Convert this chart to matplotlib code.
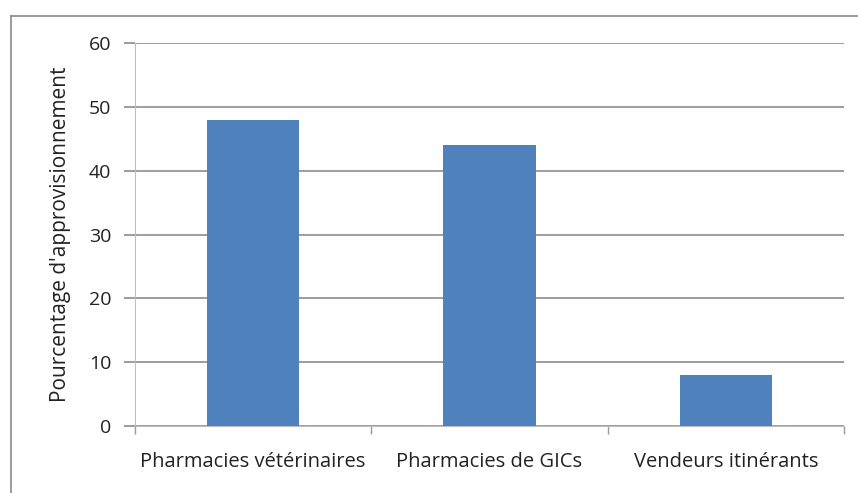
import matplotlib
matplotlib.use("Agg")
import matplotlib.pyplot as plt
from matplotlib.lines import Line2D

# Données
categories = ["Pharmacies vétérinaires", "Pharmacies de GICs", "Vendeurs itinérants"]
valeurs = [48, 44, 8]
graduations = [0, 10, 20, 30, 40, 50, 60]

plt.rcParams['font.family'] = ['Open Sans', 'DejaVu Sans']

fig = plt.figure(figsize=(8.58, 4.93), dpi=100)
ax = fig.add_axes([135 / 858, 67 / 493, 709 / 858, 383 / 493])

# Cadre gris autour du graphique (haut et gauche visibles)
fig.add_artist(Line2D([10.5 / 858, 10.5 / 858], [0, 1 - 16 / 493],
                      transform=fig.transFigure, color="#8a8a8a", lw=1.2))
fig.add_artist(Line2D([10.5 / 858, 1], [1 - 16 / 493, 1 - 16 / 493],
                      transform=fig.transFigure, color="#8a8a8a", lw=1.2))

x = range(len(categories))
ax.bar(x, valeurs, width=0.39, color="#4F81BD", zorder=3)

ax.set_xlim(-0.5, len(categories) - 0.5)
ax.set_ylim(0, 60)
ax.set_yticks(graduations)
ax.yaxis.grid(True, color="#8c8c8c", lw=1.2, zorder=0)

# Ticks de séparation entre catégories
ax.set_xticks([i - 0.5 for i in range(len(categories) + 1)])
ax.set_xticklabels([])
ax.set_xticks(list(x), minor=True)
ax.set_xticklabels(categories, minor=True, fontsize=14.5, color="#222222")
ax.tick_params(axis="x", which="minor", length=0, pad=19)
ax.tick_params(axis="x", which="major", length=6, color="#9a9a9a", width=1)
ax.tick_params(axis="y", length=8, color="#8c8c8c", width=1.2, labelsize=14,
               labelcolor="#222222", pad=9)

for s in ["top", "right"]:
    ax.spines[s].set_visible(False)
ax.spines["left"].set_color("#bdbdbd")
ax.spines["bottom"].set_color("#bdbdbd")

ax.set_ylabel("Pourcentage d'approvisionnement", fontsize=15, color="#222222", labelpad=13)

fig.savefig("out.png", dpi=100)
